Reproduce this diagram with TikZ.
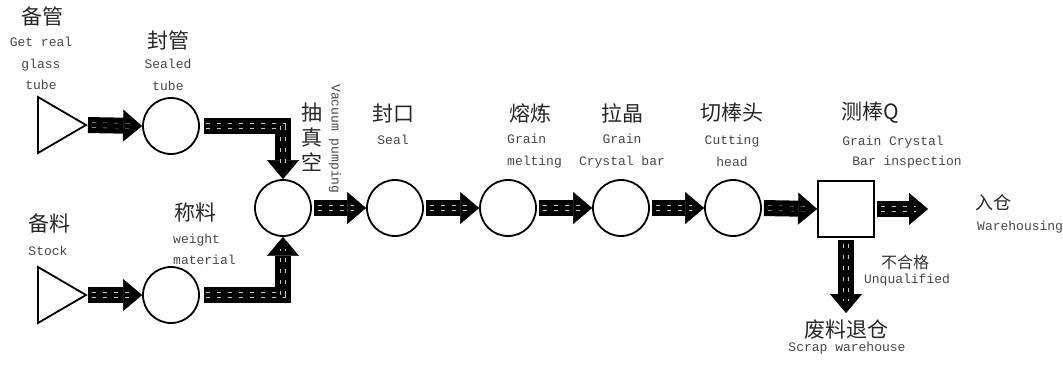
\documentclass[tikz,border=0pt]{standalone}
\usepackage{fontspec}
\setmonofont{Liberation Mono}
\newfontfamily\cjk{Noto Sans CJK SC}
\usetikzlibrary{arrows.meta,shapes.geometric}
\begin{document}
\begin{tikzpicture}[x=1pt,y=-1pt,
 proc/.style={circle,draw,line width=1.8pt,minimum size=56pt,inner sep=0pt,fill=white},
 src/.style={isosceles triangle,isosceles triangle stretches,draw,line width=1.8pt,minimum width=56pt,minimum height=48pt,inner sep=0pt,outer sep=0pt,anchor=apex},
 check/.style={rectangle,draw,line width=1.8pt,minimum size=56pt,inner sep=0pt,fill=white},
 fat/.style={line width=16pt,line join=miter,-{Triangle[width=32pt,length=19pt,line width=0.4pt]},shorten <=2pt,
   postaction={draw=gray!45,line width=0.45pt,double=black,double distance=4.5pt,dash pattern=on 4pt off 7pt,-,shorten >=12pt,shorten <=6pt}},
 zh/.style={font=\cjk\fontsize{21}{25}\selectfont,text=black!85,inner sep=0pt,align=center},
 zhs/.style={font=\cjk\fontsize{16}{18}\selectfont,text=black!80,inner sep=0pt},
 en/.style={font=\ttfamily\fontsize{13}{21.5}\selectfont,text=black!72,inner sep=0pt,align=center},
]
\useasboundingbox (0,0) rectangle (1063,368);
% shapes
\node[src] (t1) at (86,125) {};
\node[src] (t2) at (86,295) {};
\node[proc] (c1) at (171,126) {};
\node[proc] (c2) at (171,295) {};
\node[proc] (v)  at (283,208) {};
\node[proc] (s1) at (395,208) {};
\node[proc] (s2) at (508,208) {};
\node[proc] (s3) at (621,208) {};
\node[proc] (s4) at (733,208) {};
\node[check] (sq) at (846,209) {};
\coordinate (out) at (928,209);
\coordinate (scrap) at (846,313);
% connectors
\draw[fat] (t1.apex) -- (c1.west);
\draw[fat] (t2.apex) -- (c2.west);
\draw[fat,shorten <=4pt] (c1.east) -| (v.north);
\draw[fat,shorten <=4pt] (c2.east) -| (v.south);
\draw[fat] (v.east) -- (s1.west);
\draw[fat] (s1.east) -- (s2.west);
\draw[fat] (s2.east) -- (s3.west);
\draw[fat] (s3.east) -- (s4.west);
\draw[fat] (s4.east) -- (sq.west);
\draw[fat] (sq.east) -- (out);
\draw[fat] (sq.south) -- (scrap);
% labels
\node[zh] (l1) at (42,16) {备管};
\node[en] (l1e) at (41,63.5) {Get real\\glass\\tube};
\node[zh] (l2) at (168,40) {封管};
\node[en] (l2e) at (168,75) {Sealed\\tube};
\node[zh] (l3) at (312,137) {抽\\真\\空};
\node[en,rotate=-90] (l3e) at (335,139) {Vacuum pumping};
\node[zh] (l4) at (393,113) {封口};
\node[en] (l4e) at (393,140) {Seal};
\node[zh] (l5) at (530,113) {熔炼};
\node[en,align=left,anchor=west] (l5e) at (507,151) {Grain\\melting};
\node[zh] (l6) at (622,113) {拉晶};
\node[en] (l6e) at (622,151) {Grain\\Crystal bar};
\node[zh] (l7) at (732,113) {切棒头};
\node[en] (l7e) at (732,151) {Cutting\\head};
\node[zh] (l8) at (870,113) {测棒Q};
\node[en] (l8e) at (893,142) {Grain Crystal};
\node[en] (l8f) at (907,162) {Bar inspection};
\node[zh,font=\cjk\fontsize{18}{20}\selectfont] (l9) at (993,203) {入仓};
\node[en,anchor=west] (l9e) at (977,227) {Warehousing};
\node[zhs] (l10) at (905,262) {不合格};
\node[en] (l10e) at (907,280) {Unqualified};
\node[zh] (l11) at (846,330) {废料退仓};
\node[en] (l11e) at (847,348) {Scrap warehouse};
\node[zh] (l12) at (49,223) {备料};
\node[en] (l12e) at (48,251) {Stock};
\node[zh] (l13) at (195,213) {称料};
\node[en,align=left,anchor=west] (l13e) at (173,249.5) {weight\\material};
\end{tikzpicture}
\end{document}
